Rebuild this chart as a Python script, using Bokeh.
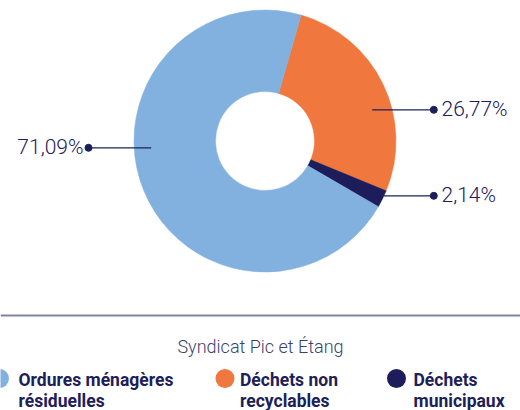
from bokeh.plotting import figure
from bokeh.models import Range1d, ColumnDataSource
from bokeh.core.properties import value
from bokeh.embed import file_html
from bokeh.resources import INLINE
import math

# ---- data ----
categories = ["Ordures ménagères résiduelles", "Déchets non recyclables", "Déchets municipaux"]
legend_line1 = ["Ordures ménagères", "Déchets non", "Déchets"]
legend_line2 = ["résiduelles", "recyclables", "municipaux"]
values = [71.09, 26.77, 2.14]
pct_labels = ["71,09%", "26,77%", "2,14%"]
colors = ["#82b1e0", "#f0773d", "#1c1d5a"]
title = "Syndicat Pic et Étang"

# ---- layout (pixel coordinates, y measured from top) ----
W, H = 520, 410
def Y(py):
    return H - py

cx, cy = 264.5, 140.5
r_out, r_in = 131, 49.5
start_theta = 16.0   # clockwise from top where the orange slice begins
draw_order = [1, 2, 0]

p = figure(width=W, height=H, output_backend="svg", toolbar_location=None,
           x_range=Range1d(0, W), y_range=Range1d(0, H),
           min_border=0, x_axis_location=None, y_axis_location=None)
p.grid.visible = False
p.outline_line_color = None
p.background_fill_color = "white"

theta = start_theta
starts, ends, cols = [], [], []
for i in draw_order:
    sweep = values[i] / sum(values) * 360.0
    starts.append(math.radians(90 - theta))
    ends.append(math.radians(90 - theta - sweep))
    cols.append(colors[i])
    theta += sweep
src = ColumnDataSource(dict(x=[cx] * 3, y=[Y(cy)] * 3, s=starts, e=ends, c=cols))
p.annular_wedge(x="x", y="y", inner_radius=r_in, outer_radius=r_out,
                start_angle="s", end_angle="e", direction="clock",
                fill_color="c", line_color="c", line_width=0.5, source=src,
                inner_radius_units="screen", outer_radius_units="screen")

# leader lines and labels
navy = "#1d2058"
lab_y = [147.3, 109.3, 195.3]
line_from = [150.7, 371.7, 383.3]
dot_x = [88.0, 433.3, 433.3]
text_x = [83.0, 441.0, 441.0]
align = ["right", "left", "left"]
for i in range(3):
    p.line([line_from[i], dot_x[i]], [Y(lab_y[i])] * 2, line_color=navy, line_width=1.3)
    p.scatter([dot_x[i]], [Y(lab_y[i])], size=7, fill_color=navy, line_color=navy)
    p.text([text_x[i]], [Y(lab_y[i]) + 0.5], text=[pct_labels[i]], text_align=align[i],
           text_baseline="middle", text_font=value("Roboto Light"), text_font_size="21px",
           text_color=navy)

# separator line
p.line([0, W], [Y(315)] * 2, line_color="#80839f", line_width=2)

# legend title
p.text([260], [Y(346)], text=[title], text_align="center", text_baseline="middle",
       text_font=value("Roboto Light"), text_font_size="18px", text_color="#3c3f6e")

# legend entries
leg_dot_x = [-1.0, 224.5, 396.0]
leg_text_x = [18.0, 239.5, 413.0]
for i in range(3):
    p.scatter([leg_dot_x[i]], [Y(378)], size=19, fill_color=colors[i], line_color=None)
    p.text([leg_text_x[i]], [Y(379)], text=[legend_line1[i]], text_align="left",
           text_baseline="middle", text_font=value("Roboto"), text_font_style="bold",
           text_font_size="17.5px", text_color=navy)
    p.text([leg_text_x[i]], [Y(400)], text=[legend_line2[i]], text_align="left",
           text_baseline="middle", text_font=value("Roboto"), text_font_style="bold",
           text_font_size="17.5px", text_color=navy)

open("out.html", "w").write(file_html(p, INLINE))
